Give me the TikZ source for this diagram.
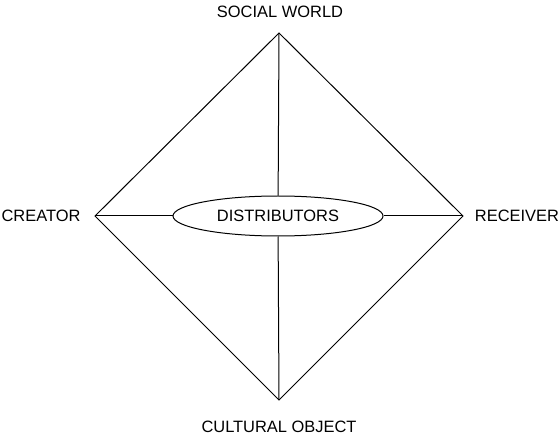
\documentclass[tikz,border=0pt]{standalone}
\usepackage{fontspec}
\setmainfont{Liberation Sans}
\usetikzlibrary{shapes.geometric}
\tikzset{
    label/.style={font=\fontsize{16.5}{19}\selectfont},
    edge/.style={line width=1bp}
}
\begin{document}
\begin{tikzpicture}[x=1bp,y=-1bp]
        \useasboundingbox (0,0) rectangle (559,439);
        %% Corners
        \coordinate (top)    at (279,33);
        \coordinate (left)   at (95,216);
        \coordinate (right)  at (463,216);
        \coordinate (bottom) at (279,400);
        %% Centre
        \node[edge,draw,ellipse,minimum width=210bp,minimum height=40bp,inner sep=0pt,label] (dist) at (278,216) {DISTRIBUTORS};
        %% Diamond
        \draw[edge] (top) -- (right) -- (bottom) -- (left) -- cycle;
        \draw[edge] (top) -- (dist);
        \draw[edge] (bottom) -- (dist);
        \draw[edge] (left) -- (dist);
        \draw[edge] (right) -- (dist);
        %% Labels
        \node[label,inner sep=0pt] (social) at (280,12) {SOCIAL WORLD};
        \node[label,inner sep=0pt] (creator) at (41,216) {CREATOR};
        \node[label,inner sep=0pt] (receiver) at (517,216) {RECEIVER};
        \node[label,inner sep=0pt] (cultural) at (279,427) {CULTURAL OBJECT};
    \end{tikzpicture}
\end{document}
